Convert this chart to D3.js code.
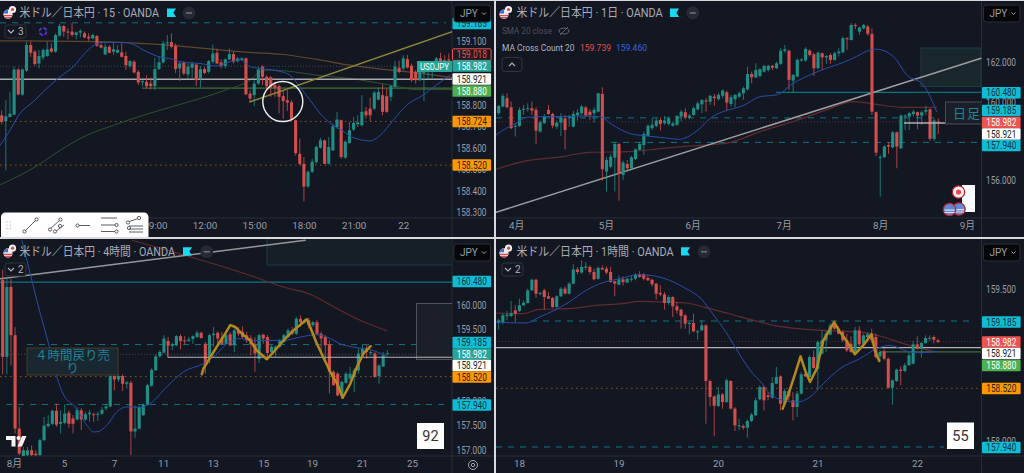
<!DOCTYPE html>
<html><head><meta charset="utf-8">
<script src="https://cdnjs.cloudflare.com/ajax/libs/d3/7.8.5/d3.min.js"></script>
<style>
html,body{margin:0;padding:0;background:#d8dade;overflow:hidden}
svg{display:block}
text{font-family:Roboto,"Noto Sans CJK JP",sans-serif}
</style></head><body><svg id="c" width="1024" height="473"></svg>
<script>
// candle rows: [open, close, high, low]
const m15Candles=[[158.753,158.722,158.776,158.711],[158.726,158.748,158.823,158.495],[158.745,158.761,158.862,158.742],[158.756,158.967,158.98,158.753],[158.967,158.85,158.972,158.847],[158.85,158.967,158.972,158.842],[158.961,159.081,159.097,158.956],[159.081,159.045,159.097,159.026],[159.05,158.992,159.058,158.983],[158.995,159.03,159.058,158.972],[159.023,159.058,159.065,159.011],[159.03,159.061,159.097,159.026],[159.065,159.05,159.089,159.045],[159.05,159.128,159.136,159.045],[159.125,159.17,159.18,159.12],[159.17,159.144,159.175,159.12],[159.144,159.14,159.159,159.108],[159.144,159.128,159.183,159.12],[159.128,159.14,159.144,159.108],[159.139,159.147,159.155,159.117],[159.136,159.117,159.144,159.112],[159.12,159.112,159.136,159.101],[159.112,159.128,159.136,159.108],[159.123,159.078,159.128,159.073],[159.081,159.069,159.092,159.065],[159.037,159.073,159.089,159.034],[159.073,159.045,159.081,159.042],[159.05,159.061,159.092,159.034],[159.045,159.058,159.081,159.042],[159.047,159.026,159.089,159.023],[159.03,158.987,159.05,158.964],[158.983,159.006,159.011,158.972],[159.003,158.953,159.011,158.948],[158.956,158.906,158.964,158.894],[158.909,158.912,158.917,158.889],[158.909,158.889,158.94,158.878],[158.901,158.889,158.93,158.873],[158.889,158.969,159.023,158.87],[158.969,159,159.026,158.964],[159,159.089,159.101,158.995],[159.089,159.094,159.128,159.058],[159.095,159.073,159.136,159.065],[159.076,158.969,159.089,158.951],[158.972,158.995,159.003,158.912],[159,158.948,159.006,158.94],[158.944,158.98,158.995,158.925],[158.975,158.995,159.003,158.925],[158.99,158.917,158.995,158.889],[158.925,158.969,158.983,158.883],[158.969,158.951,158.98,158.945],[158.956,159.006,159.011,158.948],[159.003,159.042,159.084,158.995],[159.045,158.995,159.065,158.992],[159,158.984,159.014,158.972],[158.983,159.014,159.019,158.972],[159.014,159.039,159.065,159.011],[159.039,159.003,159.05,158.995],[159.006,159.019,159.026,158.998],[159.011,159.019,159.026,159.006],[159.019,158.851,159.023,158.847],[158.854,158.831,158.87,158.811],[158.847,158.901,158.917,158.795],[158.901,158.967,158.98,158.894],[158.98,158.933,158.987,158.894],[158.933,158.889,158.94,158.87],[158.93,158.883,158.936,158.839],[158.894,158.881,158.909,158.839],[158.889,158.839,158.898,158.761],[158.842,158.819,158.867,158.737],[158.823,158.812,158.87,158.773],[158.814,158.733,158.823,158.726],[158.73,158.576,158.733,158.565],[158.573,158.526,158.644,158.519],[158.526,158.42,158.558,158.351],[158.42,158.489,158.495,158.414],[158.489,158.536,158.55,158.483],[158.534,158.605,158.612,158.526],[158.601,158.636,158.648,158.597],[158.636,158.526,158.639,158.523],[158.526,158.605,158.651,158.523],[158.589,158.701,158.714,158.586],[158.698,158.733,158.769,158.69],[158.73,158.558,158.733,158.55],[158.555,158.63,158.636,158.55],[158.623,158.683,158.722,158.62],[158.686,158.717,158.745,158.679],[158.711,158.72,158.753,158.698],[158.706,158.769,158.847,158.701],[158.772,158.753,158.792,158.737],[158.784,158.753,158.836,158.726],[158.784,158.859,158.867,158.776],[158.826,158.862,158.883,158.823],[158.847,158.769,158.898,158.753],[158.842,158.769,158.878,158.764],[158.839,158.889,158.894,158.819],[158.886,158.98,159.008,158.883],[158.975,158.956,159.008,158.948],[158.972,159.019,159.034,158.961],[159.015,158.976,159.034,158.972],[158.984,158.917,158.995,158.909],[158.956,158.917,158.964,158.901],[158.917,158.956,158.964,158.912],[158.951,158.983,158.995,158.819],[158.956,158.98,158.987,158.925],[158.972,158.98,158.987,158.925],[158.98,159.019,159.026,158.972],[159.019,158.987,159.045,158.972],[159.011,158.995,159.034,158.987],[159.014,159.008,159.042,159.003]];
const dayCandles=[[159.42,159.79,159.84,159.33],[159.76,160.30,160.40,159.72],[160.18,159.72,160.43,159.67],[159.72,158.66,160.01,158.61],[158.74,158.78,158.91,158.24],[158.78,159.59,159.72,158.71],[159.59,159.64,159.84,159.33],[159.62,159.67,159.92,159.5],[159.67,159.55,160.01,159.33],[159.59,158.54,159.72,157.86],[158.49,158.96,159.05,158.44],[158.91,159.28,159.38,158.88],[159.59,159.38,159.84,159.33],[159.38,158.79,159.45,158.66],[158.74,158.94,159.05,158.61],[158.94,159.21,159.42,158.27],[159.16,158.57,159.33,157.59],[159.21,159.25,159.33,158.74],[158.74,159.38,159.55,158.71],[159.33,159.45,159.62,159.05],[159.42,159.76,159.84,159.33],[159.71,159.30,159.79,159.25],[159.5,159.33,159.62,159.08],[159.42,159.59,159.72,158.94],[159.5,160.43,160.46,159.45],[160.4,156.58,160.73,156.0],[156.46,157.05,157.22,155.45],[156.71,157.22,157.36,156.63],[157.17,157.86,157.98,155.45],[157.86,156.34,157.93,154.99],[156.29,156.92,157.02,156.04],[156.85,156.63,157.05,156.46],[156.63,157.19,157.26,156.58],[157.10,157.59,157.64,157.05],[157.56,157.86,157.98,157.53],[157.81,158.37,158.49,157.31],[158.27,158.78,158.86,158.24],[158.66,158.83,159.16,158.57],[158.78,159.05,159.16,158.71],[159.08,158.88,159.21,158.54],[158.91,159.05,159.28,158.83],[158.88,159.16,159.25,158.78],[158.79,158.91,159.0,158.74],[158.83,159.28,159.33,158.78],[159.25,159.5,159.59,159.0],[159.47,159.2,159.67,159.11],[159.21,159.3,159.38,159.11],[159.33,159.67,159.76,159.28],[159.62,159.92,160.01,159.55],[159.87,160.09,160.13,159.42],[160.06,160.04,160.18,159.5],[160.01,160.30,160.35,159.84],[160.26,160.18,160.4,159.79],[160.13,160.35,160.43,160.06],[160.3,160.57,160.63,160.18],[160.48,159.96,160.57,159.55],[159.89,160.23,160.35,159.76],[160.13,160.35,160.38,159.72],[160.26,160.43,160.52,160.18],[160.43,160.68,160.77,160.09],[160.63,161.41,161.78,160.57],[161.41,161.24,161.53,160.94],[161.24,161.61,161.95,161.19],[161.31,161.65,161.7,161.24],[161.53,161.82,161.87,161.48],[161.61,161.83,161.87,161.53],[161.82,161.73,161.87,161.61],[161.7,161.95,162.03,161.66],[161.92,162.59,162.71,161.87],[162.58,162.66,162.88,162.49],[162.59,161.11,162.63,160.6],[161.07,161.36,161.41,160.46],[161.28,162.12,162.2,161.24],[162.09,162.15,162.2,162.03],[162.09,162.68,162.76,162.03],[162.59,162.37,162.66,162.29],[162.41,161.7,162.49,161.31],[161.7,162.49,162.54,161.65],[162.46,162.25,162.49,161.61],[162.25,162.32,162.37,161.92],[162.37,162.12,162.46,161.92],[162.12,162.46,162.54,162.09],[162.46,162.54,162.71,162.29],[162.51,163.22,163.3,162.46],[163.22,163.17,163.27,162.63],[163.13,163.89,163.98,163.1],[163.89,163.84,163.98,163.67],[163.55,163.76,163.81,163.39],[163.72,163.89,163.94,163.67],[163.81,163.44,163.89,163.33],[163.44,159.5,163.72,159.33],[159.47,157.42,159.5,157.26],[157.14,157.19,157.31,155.19],[157.19,157.73,157.81,157.14],[157.8,157.73,157.93,157.36],[157.69,158.45,158.52,157.64],[158.45,157.73,158.49,156.63],[157.64,159.3,159.37,157.61],[159.25,159.3,159.37,158.57],[159.25,159.42,159.5,158.57],[159.38,159.5,159.59,159.25],[159.47,159.3,159.5,158.61],[159.3,159.47,159.55,158.83],[159.5,159.59,159.79,159.33],[159.62,158.12,159.67,158.03],[158.12,159.05,159.16,158.0],[159.0,158.96,159.16,158.37]];
const h4Candles=[[160.53,158.93,160.74,158.57],[158.93,160.38,160.55,158.57],[160.38,159.38,160.55,158.75],[159.38,157.44,159.55,157.34],[157.44,156.92,157.89,156.89],[156.85,156.99,157.06,156.82],[156.89,156.99,157.06,156.85],[156.99,156.89,157.09,156.85],[156.92,156.89,156.99,156.85],[156.89,157.20,157.23,156.85],[157.20,157.50,157.68,157.18],[157.49,157.54,157.72,157.46],[157.54,157.81,157.83,157.51],[157.81,157.52,157.96,157.48],[157.54,157.58,157.82,157.34],[157.56,157.75,157.94,157.53],[157.77,157.54,157.82,157.46],[157.65,157.54,157.72,157.34],[157.63,157.83,157.88,157.61],[157.82,157.63,157.86,157.41],[157.63,157.74,157.79,157.6],[157.74,157.77,157.83,157.58],[157.74,157.72,157.77,157.58],[157.73,157.75,157.79,157.6],[157.75,157.83,157.89,157.72],[157.86,157.9,157.96,157.82],[157.9,158.53,158.57,157.88],[158.53,158.46,158.55,158.24],[158.46,158.53,158.57,158.41],[158.53,158.37,158.57,158.22],[158.37,158.4,158.43,158.27],[158.39,157.38,158.43,156.89],[157.38,157.44,157.92,157.25],[157.44,157.89,157.92,157.42],[157.72,157.94,157.96,157.7],[157.94,158.34,158.37,157.92],[158.33,158.66,158.69,158.31],[158.65,158.94,158.98,158.64],[158.94,159.03,159.07,158.91],[159.02,159.31,159.38,159.0],[159.26,159.16,159.34,158.93],[159.16,159.19,159.22,159.07],[159.17,159.36,159.38,159.15],[159.36,159.26,159.4,159.08],[159.27,159.26,159.36,159.19],[159.26,159.29,159.34,159.24],[159.3,159.36,159.38,159.2],[159.34,159.43,159.47,159.33],[159.43,159.32,159.45,159.31],[159.2,158.75,159.24,158.58],[158.89,159.38,159.41,158.79],[159.38,159.41,159.55,159.14],[159.43,159.31,159.46,159.2],[159.31,159.2,159.45,159.17],[159.2,159.38,159.41,159.19],[159.4,159.17,159.45,159.15],[159.17,159.48,159.52,159.03],[159.48,159.41,159.55,159.36],[159.45,159.34,159.56,159.31],[159.38,159.27,159.45,159.22],[159.31,159.19,159.38,158.96],[159.19,159.0,159.34,158.62],[158.89,159.38,159.41,158.8],[159.39,159.31,159.41,159.2],[159.34,159.01,159.38,158.86],[159.03,159.14,159.17,158.98],[159.07,159.14,159.17,158.93],[159.14,159.27,159.31,159.12],[159.24,159.38,159.41,159.22],[159.34,159.48,159.52,159.33],[159.48,159.41,159.55,159.38],[159.41,159.72,159.76,159.38],[159.72,159.65,159.79,159.55],[159.65,159.69,159.72,159.62],[159.69,159.59,159.74,159.52],[159.59,159.65,159.67,159.55],[159.65,159.41,159.69,159.38],[159.41,159.31,159.45,159.03],[159.34,159.17,159.38,158.86],[159.19,158.62,159.27,158.17],[158.62,158.34,158.65,158.34],[158.58,158.13,158.62,158.11],[158.13,158.41,158.43,158.06],[158.39,158.58,158.62,158.37],[158.48,158.58,158.72,158.44],[158.51,158.65,158.69,158.2],[158.65,159.0,159.1,158.58],[158.98,159.09,159.19,158.93],[159.1,159.03,159.17,158.89],[159.01,159.03,159.07,158.96],[159.0,158.51,159.03,158.5],[158.53,158.75,158.78,158.37],[158.73,158.96,159.03,158.72],[158.98,159.0,159.07,158.96]];
const h1Candles=[[159.165,159.191,159.208,159.099],[159.175,159.241,159.264,159.152],[159.234,159.247,159.284,159.191],[159.234,159.264,159.383,159.224],[159.29,159.257,159.34,159.175],[159.284,159.34,159.406,159.274],[159.34,159.366,159.389,159.33],[159.363,159.488,159.504,159.356],[159.488,159.593,159.603,159.481],[159.593,159.455,159.603,159.415],[159.455,159.462,159.471,159.439],[159.488,159.422,159.504,159.297],[159.429,159.406,159.471,159.406],[159.412,159.323,159.422,159.317],[159.323,159.429,159.439,159.317],[159.429,159.504,159.521,159.422],[159.504,159.455,159.527,159.448],[159.455,159.554,159.57,159.448],[159.554,159.695,159.745,159.547],[159.695,159.669,159.719,159.646],[159.663,159.719,159.784,159.653],[159.712,159.725,159.768,159.686],[159.719,159.669,159.735,159.646],[159.669,159.597,159.702,159.587],[159.603,159.709,159.725,159.593],[159.709,159.695,159.735,159.686],[159.702,159.663,159.725,159.646],[159.669,159.57,159.719,159.564],[159.577,159.554,159.587,159.429],[159.544,159.597,159.636,159.537],[159.597,159.57,159.626,159.537],[159.564,159.603,159.613,159.56],[159.593,159.603,159.636,159.57],[159.603,159.643,159.659,159.587],[159.643,159.62,159.676,159.613],[159.646,159.603,159.659,159.587],[159.61,159.587,159.636,159.58],[159.593,159.547,159.603,159.527],[159.554,159.455,159.56,159.396],[159.462,159.448,159.537,159.429],[159.448,159.363,159.471,159.297],[159.363,159.422,159.439,159.34],[159.422,159.33,159.429,159.224],[159.33,159.29,159.373,159.257],[159.297,159.234,159.307,159.109],[159.241,159.159,159.251,159.109],[159.159,159.165,159.175,159.053],[159.165,159.083,159.257,159.076],[159.083,159.083,159.099,158.999],[159.093,159.142,159.191,159.086],[159.142,158.592,159.152,158.17],[158.592,158.434,158.605,158.342],[158.44,158.348,158.45,158.045],[158.345,158.46,158.533,158.335],[158.46,158.384,158.473,158.319],[158.384,158.599,158.615,158.378],[158.592,158.319,158.599,158.309],[158.319,158.154,158.335,158.098],[158.147,158.154,158.22,158.105],[158.147,158.131,158.164,158.111],[158.131,158.197,158.21,158.032],[158.197,158.259,158.276,158.187],[158.253,158.401,158.427,158.246],[158.411,158.533,158.549,158.401],[158.533,158.401,158.549,158.302],[158.45,158.434,158.483,158.401],[158.427,158.572,158.632,158.418],[158.566,158.632,158.73,158.559],[158.638,158.368,158.648,158.302],[158.368,158.493,158.516,158.351],[158.493,158.44,158.499,158.401],[158.401,158.335,158.483,158.203],[158.335,158.467,158.493,158.236],[158.467,158.658,158.681,158.46],[158.664,158.638,158.681,158.632],[158.632,158.829,158.846,158.625],[158.829,158.72,158.895,158.714],[158.714,158.977,158.994,158.506],[158.862,158.994,159.093,158.856],[158.994,159.06,159.086,158.879],[159.05,159.142,159.165,159.043],[159.165,159.109,159.191,159.099],[159.109,159.06,159.132,159.053],[159.076,158.994,159.093,158.98],[158.994,158.895,159.06,158.879],[158.961,158.879,159.035,158.87],[158.879,159.093,159.126,158.869],[159.093,158.954,159.132,158.934],[158.961,159.043,159.06,158.94],[159.027,159.053,159.07,158.98],[159.053,158.994,159.109,158.97],[159.027,158.829,159.06,158.813],[158.836,158.879,158.895,158.79],[158.885,158.813,158.912,158.796],[158.813,158.526,158.823,158.516],[158.526,158.599,158.605,158.358],[158.592,158.704,158.714,158.582],[158.704,158.691,158.737,158.549],[158.691,158.747,158.77,158.681],[158.747,158.846,158.879,158.747],[158.763,158.954,158.987,158.757],[158.954,158.912,159.033,158.902],[158.912,158.967,158.977,158.823],[158.967,159.017,159.043,158.961],[159.01,159.02,159.043,158.987],[159.027,159.0,159.043,158.961],[158.994,158.977,159.01,158.967]];

// moving averages and drawn lines: index along the bars, then price
const m15BlueIdx=[-0.4,2,4.4,7.6,10.9,14.1,17.3,19.7,22.1,24.6,29.4,31.8,34.2,37.4,41.5,43.9,47.9,51.9,55.2,57.6,60,62.4,66.4,69.6,72,74.5,77.3,79.7,82.1,84.5,86.6,89,91.4,94.6,97.8,101.8,105,108.3];
const m15BluePx=[158.612,158.683,158.761,158.816,158.878,158.933,158.98,159.034,159.078,159.094,159.094,159.084,159.058,159.03,159.014,159,158.995,158.983,159.003,159.014,158.98,158.972,158.961,158.941,158.886,158.823,158.753,158.711,158.683,158.652,158.639,158.633,158.659,158.73,158.8,158.847,158.894,158.941];
const m15BrownIdx=[-0.4,23.8,39.9,60,68,76.1,84.1,92.2,100.3,108.7,112];
const m15BrownPx=[159.101,159.097,159.081,159.047,159.037,159.014,158.987,158.967,158.951,158.93,158.925];
const m15GreenIdx=[-0.4,4.4,9.3,14.1,20.5,27,34.2,41.5,47.9,54.4,60,62.4,64.8,70.5,76.1,84.1,93.8,100.2,108.7];
const m15GreenPx=[158.428,158.472,158.526,158.589,158.659,158.706,158.753,158.795,158.831,158.873,158.917,158.956,158.964,158.956,158.94,158.925,158.894,158.873,158.873];
const m15TrendIdx=[60,109.5];const m15TrendPx=[158.816,159.148];

const dayBlueIdx=[-0.6,1.8,4.2,6.6,11.4,15.4,20.2,24.2,27.4,31.4,34.6,38.7,43.5,47.5,51.5,54.7,58.7,62.9,66.9,70.9,74.9,78.9,82.9,86.1,88.9,90.9,95,98.2,102.2,105.4];
const dayBluePx=[158.32,158.66,158.91,159.21,159.25,159.25,159.28,159.25,158.83,158.4,158.29,158.2,158.1,158.49,159.25,159.55,159.79,160.26,160.35,160.94,161.36,161.7,161.99,162.29,162.59,162.66,162.29,161.36,160.85,159.5];
const dayRedIdx=[-0.6,5.8,15.4,21.8,31.4,39.5,47.5,55.5,62.9,70.9,78.9,85.3,90.1,97.4,105.4];
const dayRedPx=[156.58,156.97,157.22,157.44,157.47,157.64,157.78,157.93,158.49,159,159.59,160.01,159.89,159.72,159.72];
const dayTrendIdx=[-0.6,116.1];const dayTrendPx=[154.4,162.2];

const h4BlueIdx=[4.6,6.2,8.2,11.4,13,14.7,17.4,20.2,21.8,23,25,27.4,29.8,33,35.4,39.4,43.4,48.2,50.6,53.8,57,59.4,63.4,67.4,71.4,75.4,77.8,81,85,88.2,92.2];
const h4BluePx=[161.35,160.8,160.1,159.07,158.51,158.13,157.89,157.51,157.37,157.38,157.51,157.79,157.89,157.88,157.96,158.31,158.62,158.79,158.93,159.2,159.31,159.27,159.27,159.27,159.34,159.39,159.34,159.2,159.12,159.08,158.94];
const h4RedIdx=[31,59.4,67.4,73.8,79.4,85,92.2];
const h4RedPx=[161.35,160.62,160.38,160.23,159.97,159.72,159.47];
const h4GoldIdx=[47.8,48.2,49.4,50.6,51.8,53.4,54.6,55.8,57.4,59.4,60.9,63.4,65,67.4,69.8,73,73.8,75.4,78.6,80.3,81.6,83.4,85,86.6,88.3];
const h4GoldPx=[158.57,158.69,158.86,159.03,159.2,159.41,159.59,159.55,159.41,159.27,159.07,158.88,159.03,159.27,159.48,159.71,159.55,159.2,158.62,158.37,158.08,158.37,158.72,159,159.15];
const h4TrendIdx=[-0.6,72.6];const h4TrendPx=[160.55,161.35];

const h1BlueIdx=[-0.6,2.6,6.6,9.8,13.8,17,21.1,25.1,29.1,33.9,37.1,41.2,45.2,48.8,51.6,54.8,58,61.3,63,65.4,68.6,71.9,75.1,78.3,82.3,87.1,91.2,94.4,98.4,101.6,105.6];
const h1BluePx=[159.175,159.168,159.165,159.224,159.297,159.373,159.488,159.564,159.603,159.643,159.633,159.587,159.504,159.406,159.257,159.076,158.862,158.664,158.592,158.467,158.401,158.384,158.434,158.566,158.714,158.813,158.912,158.944,158.888,158.872,158.885];
const h1RedIdx=[-0.6,5.8,9.8,17,23.5,29.9,33.9,39.5,45.2,50,55.6,63,67.8,75.1,81.5,87.1,92.8,97.6,105.6];
const h1RedPx=[159.264,159.257,159.3,159.307,159.34,159.356,159.379,159.373,159.363,159.317,159.257,159.175,159.132,159.099,159.086,159.076,159.027,158.961,158.879];
const h1GoldIdx=[68.5,69.9,71.5,72.8,73.9,75.1,76.7,78.3,80.9,82.3,84.1,85.9,87.9,89.9,90.7,91.8];
const h1GoldPx=[158.319,158.467,158.664,158.836,158.697,158.582,158.714,158.994,159.175,159.076,158.977,158.856,158.944,159.053,158.895,158.79];

// axis ticks
const m15Ticks=[159.1,158.8,158.7,158.6,158.5,158.4,158.3];
const dayTicks=[162,160,156];
const h4Ticks=[160,159.5,158,157.5,157];
const h1Ticks=[159.5,158];
const m15TimeIdx=[37,49,61,73,85,97];const m15TimeLbl=["09:00","12:00","15:00","18:00","21:00","22"];
const dayTimeIdx=[4.2,25.8,46.7,68.6,91.8,112.7];const dayTimeLbl=["4月","5月","6月","7月","8月","9月"];
const h4TimeIdx=[2.7,14.7,26.7,38.5,50.4,62.5,74.2,86.2,98.2];const h4TimeLbl=["8月","5","7","11","13","15","19","21","25"];
const h1TimeIdx=[4.9,28.9,52.9,76.9,100.9];const h1TimeLbl=["18","19","20","21","22"];

const BG="#131722",UP="#1f8f85",DN="#d24f4d",TEAL="#0b7482",CY="#0fbcd6",OR="#ff9800",GOLD="#b38a1e",BLUE="#284ea8",MRED="#642a2f";
const svg=d3.select("#c");
const panels=[
 {id:"a",x:0,y:1,w:494,h:236,ax:452,ty:218,title:"米ドル／日本円 · 15 · OANDA",tEnd:159,fl:167,mn:189,hy:13},
 {id:"b",x:496,y:1,w:528,h:236,ax:981.5,ty:218,title:"米ドル／日本円 · 1日 · OANDA",tEnd:661.7,fl:670,mn:692.7,hy:13},
 {id:"c",x:0,y:239,w:494,h:234,ax:452,ty:456,title:"米ドル／日本円 · 4時間 · OANDA",tEnd:175,fl:183,mn:206.7,hy:251.7},
 {id:"d",x:496,y:239,w:528,h:234,ax:981.5,ty:456,title:"米ドル／日本円 · 1時間 · OANDA",tEnd:672.7,fl:681,mn:704,hy:251.7}];
const defs=svg.append("defs");
panels.forEach(p=>{
 defs.append("clipPath").attr("id","clip-"+p.id).append("rect").attr("x",p.x).attr("y",p.y).attr("width",p.ax-p.x).attr("height",p.ty-p.y);
 svg.append("rect").attr("x",p.x).attr("y",p.y).attr("width",p.w).attr("height",p.h).attr("fill",BG);
 svg.append("line").attr("x1",p.ax).attr("x2",p.ax).attr("y1",p.y).attr("y2",p.y+p.h).attr("stroke","#2a2e39");
 svg.append("line").attr("x1",p.x).attr("x2",p.x+p.w).attr("y1",p.ty).attr("y2",p.ty).attr("stroke","#2a2e39");
 p.g=svg.append("g").attr("clip-path",`url(#clip-${p.id})`);
});
const [pa,pb,pc,pd]=panels;
const scales={
 a:{x:d3.scaleLinear([0,108],[1.7,448.8]),y:d3.scaleLinear([159.1,158.3],[41,212.2]),span:108},
 b:{x:d3.scaleLinear([0,105.8],[498.7,938.3]),y:d3.scaleLinear([162,156],[62.3,180.7]),span:105.8},
 c:{x:d3.scaleLinear([0,92.3],[2.7,387.3]),y:d3.scaleLinear([160,157],[305.3,449.8]),span:92.3},
 d:{x:d3.scaleLinear([0,105.95],[498.7,938]),y:d3.scaleLinear([159.185,157.94],[321,447]),span:105.95}};
function level(p,price,color,dash,from,to,width){
 const s=scales[p.id];
 p.g.append("line").attr("x1",from).attr("x2",to).attr("y1",s.y(price)).attr("y2",s.y(price))
  .attr("stroke",color).attr("stroke-width",width||1).attr("stroke-dasharray",dash||null);
}
function path(p,idx,px,color,width,smooth){
 const s=scales[p.id];
 const ln=d3.line().x(d=>s.x(d[0])).y(d=>s.y(d[1])).curve(smooth?d3.curveMonotoneX:d3.curveLinear);
 p.g.append("path").attr("d",ln(d3.zip(idx,px))).attr("fill","none").attr("stroke",color).attr("stroke-width",width).attr("stroke-linejoin","round").attr("stroke-linecap","round");
}
function candles(p,rows,bw){
 const s=scales[p.id],k=s.span/(rows.length-1);
 const g=p.g.append("g");
 g.selectAll("line").data(rows).join("line")
  .attr("x1",(d,i)=>s.x(i*k)).attr("x2",(d,i)=>s.x(i*k)).attr("y1",d=>s.y(d[2])).attr("y2",d=>s.y(d[3]))
  .attr("stroke",d=>d[1]>=d[0]?UP:DN).attr("stroke-width",1).attr("stroke-opacity",.8);
 g.selectAll("rect").data(rows).join("rect")
  .attr("x",(d,i)=>s.x(i*k)-bw/2).attr("width",bw)
  .attr("y",d=>Math.min(s.y(d[0]),s.y(d[1]))).attr("height",d=>Math.max(1,Math.abs(s.y(d[0])-s.y(d[1]))))
  .attr("fill",d=>d[1]>=d[0]?UP:DN);
}
function box(g,x,y,w,h,fill,stroke){g.append("rect").attr("x",x).attr("y",y).attr("width",w).attr("height",h).attr("fill",fill).attr("stroke",stroke||"none");}

// ---- panel A
level(pa,159.185,TEAL,"6,6",0,446);
level(pa,158.982,"#3c4c55","1,2",0,452);
level(pa,158.724,"#8f5818","1.5,3.5",0,452);
level(pa,158.52,"#8f5818","1.5,3.5",0,452);
level(pa,158.88,"#3a7236",null,142,452,1.2);
path(pa,m15BrownIdx,m15BrownPx,"#64452a",1.2,true);
path(pa,m15GreenIdx,m15GreenPx,"#2d5233",1,true);
level(pa,158.921,"#a9a9ad",null,0,452,1.6);
candles(pa,m15Candles,3.1);
path(pa,m15BlueIdx,m15BluePx,BLUE,1,true);
path(pa,m15TrendIdx,m15TrendPx,"#8f883a",1.4);
pa.g.append("circle").attr("cx",scales.a.x(67.9)).attr("cy",scales.a.y(158.817)).attr("r",20).attr("fill","none").attr("stroke","#f2f2f2").attr("stroke-width",1.4);

// ---- panel B
box(pb.g,921,48,60,38.5,"#19262c","#173f47");
level(pb,159.185,TEAL,"6,6",496,940);
level(pb,157.94,TEAL,"6,6",611,981);
level(pb,158.982,"#5a2c33","1,2",496,981);
level(pb,160.48,TEAL,null,776,981,1.2);
path(pb,dayRedIdx,dayRedPx,MRED,1.2,true);
path(pb,dayTrendIdx,dayTrendPx,"#9b9ba0",1.6);
candles(pb,dayCandles,3.1);
path(pb,dayBlueIdx,dayBluePx,BLUE,1,true);
level(pb,158.921,"#aeaeb2",null,904,981,1.4);
box(pb.g,945.5,102,40,22,"#1a2029","#4a4f59");
pb.g.append("text").attr("x",953).attr("y",118).attr("fill","#1e8494").attr("font-size",13).attr("letter-spacing",1).attr("font-family","Noto Sans CJK JP").text("日足戻り売り");

// ---- panel C
box(pc.g,267,238,190,27,"#161f26","#173f47");
level(pc,160.48,TEAL,null,0,452,1.2);
level(pc,159.185,TEAL,"6,6",27,445);
level(pc,157.94,TEAL,"6,6",6,445);
level(pc,158.52,"#8f5818","1.5,3.5",0,452);
level(pc,158.982,"#3c4c55","1,2",0,452);
box(pc.g,416.5,303.5,40,56,"#1b1f27","#4e525b");
path(pc,h4RedIdx,h4RedPx,MRED,1.1,true);
path(pc,h4TrendIdx,h4TrendPx,"#96969b",1.5);
candles(pc,h4Candles,3.1);
path(pc,h4BlueIdx,h4BluePx,BLUE,1,true);
level(pc,158.921,"#b4b4b8",null,167.5,452,1.2);
pc.g.append("line").attr("x1",167.5).attr("x2",167.5).attr("y1",345).attr("y2",357).attr("stroke","#a05a5a");
path(pc,h4GoldIdx,h4GoldPx,GOLD,2.5);
box(pc.g,27,348,91,27,"#192730","#4c3d24");
pc.g.append("text").attr("x",72.5).attr("y",360).attr("text-anchor","middle").attr("fill","#1e8494").attr("font-size",12.5).attr("font-family","Noto Sans CJK JP").text("４時間戻り売");
pc.g.append("text").attr("x",72.5).attr("y",373).attr("text-anchor","middle").attr("fill","#1e8494").attr("font-size",12.5).attr("font-family","Noto Sans CJK JP").text("り");
// TradingView mark
const tv=pc.g.append("g").attr("fill","#f4f4f4");
tv.append("path").attr("d","M6 436h9.5v10.5h-4v-6.5H6z");
tv.append("circle").attr("cx",18.5).attr("cy",438).attr("r",2);
tv.append("path").attr("d","M22 436h4.5l-4.5 10.5h-4.5z");

// ---- panel D
level(pd,159.185,TEAL,"6,6",531,975);
level(pd,157.94,TEAL,"6,6",496,944);
level(pd,158.52,"#8f5818","1.5,3.5",496,981);
level(pd,158.982,"#5a2c33","1,2",496,981);
level(pd,158.88,"#3a7236",null,880,981,1.2);
path(pd,h1RedIdx,h1RedPx,MRED,1.2,true);
level(pd,158.921,"#b4b4b8",null,496,981,1.3);
candles(pd,h1Candles,3.1);
path(pd,h1BlueIdx,h1BluePx,BLUE,1,true);
path(pd,h1GoldIdx,h1GoldPx,GOLD,2.5);

// ---- axes, tags, headers
const priceFmt=d3.format(".3f");
function axes(p,ticks,tIdx,tLbl){
 const s=scales[p.id];
 const ag=svg.append("g").attr("transform",`translate(${p.ax+4.5},0)`).call(d3.axisRight(s.y).tickValues(ticks).tickFormat(priceFmt).tickSize(0).tickPadding(0));
 ag.select(".domain").remove();
 ag.selectAll("text").attr("fill","#9a9da6").attr("font-size",10.2).attr("font-family","Roboto").attr("textLength",30).attr("lengthAdjust","spacingAndGlyphs");
 const tg=svg.append("g").attr("transform",`translate(0,${p.ty+4})`).call(d3.axisBottom(s.x).tickValues(tIdx).tickFormat((d,i)=>tLbl[i]).tickSize(0).tickPadding(0));
 tg.select(".domain").remove();
 tg.selectAll("text").attr("fill","#9a9da6").attr("font-size",9.8).attr("font-family","Roboto,Noto Sans CJK JP");
}
axes(pa,m15Ticks,m15TimeIdx,m15TimeLbl);
axes(pb,dayTicks,dayTimeIdx,dayTimeLbl);
axes(pc,h4Ticks,h4TimeIdx,h4TimeLbl);
axes(pd,h1Ticks,h1TimeIdx,h1TimeLbl);

function tag(p,text,yc,fill,color,stroke){
 svg.append("rect").attr("x",p.ax+.5).attr("y",yc-5.8).attr("width",38.6).attr("height",11.6).attr("rx",1).attr("fill",fill).attr("stroke",stroke||"none");
 svg.append("text").attr("x",p.ax+19.8).attr("y",yc+3.5).attr("text-anchor","middle").attr("fill",color).attr("font-size",10.2).attr("textLength",30).attr("lengthAdjust","spacingAndGlyphs").text(text);
}
tag(pa,"159.185",23.5,CY,"#10333a");
tag(pa,"159.018",54.6,"#1e1a22","#ef5350","#ef5350");
tag(pa,"158.982",66,"#26a69a","#fff");
tag(pa,"158.921",79,"#fff","#222");
tag(pa,"158.880",91,"#4caf50","#fff");
tag(pa,"158.724",121.5,OR,"#222");
tag(pa,"158.520",165,OR,"#222");
svg.append("rect").attr("x",417).attr("y",61).attr("width",35).attr("height",11).attr("fill","#26a69a");
svg.append("text").attr("x",434.5).attr("y",69.8).attr("text-anchor","middle").attr("fill","#fff").attr("font-size",9.5).attr("textLength",29).attr("lengthAdjust","spacingAndGlyphs").text("USDJPY");

tag(pb,"160.480",92.7,CY,"#10333a");
tag(pb,"159.185",110.5,CY,"#10333a");
tag(pb,"158.982",122.5,"#ef5350","#fff");
tag(pb,"158.921",134,"#fff","#222");
tag(pb,"157.940",145.5,CY,"#10333a");

tag(pc,"160.480",281.5,CY,"#10333a");
tag(pc,"159.185",342.5,CY,"#10333a");
tag(pc,"158.982",354,"#26a69a","#fff");
tag(pc,"158.921",365.5,"#fff","#222");
tag(pc,"158.520",377,OR,"#222");
tag(pc,"157.940",405,CY,"#10333a");

tag(pd,"159.185",322,CY,"#10333a");
tag(pd,"158.982",342,"#ef5350","#fff");
tag(pd,"158.921",353.5,"#fff","#222");
tag(pd,"158.880",365.5,"#4caf50","#fff");
tag(pd,"158.520",388.5,OR,"#222");
tag(pd,"157.940",447.5,CY,"#10333a");

function header(p){
 const cx=p.x+8,y=p.hy;
 svg.append("circle").attr("cx",cx+4.5).attr("cy",y-3.5).attr("r",3.6).attr("fill","#f4f4f4");
 svg.append("circle").attr("cx",cx+4.5).attr("cy",y-3.5).attr("r",1.6).attr("fill","#e04848");
 svg.append("circle").attr("cx",cx).attr("cy",y+1.2).attr("r",4.6).attr("fill","#e9e9ef");
 svg.append("path").attr("d",`M${cx-4.4} ${y+.5}a4.6 4.6 0 0 1 4.4 -3.8v3.8z`).attr("fill","#3f6fc6");
 svg.append("path").attr("d",`M${cx-4.2} ${y+2.6}h8.4M${cx-2.8} ${y+4.6}h5.6`).attr("stroke","#e04848").attr("stroke-width",1.2);
 svg.append("text").attr("x",p.x+19.5+(p.x?1:0)).attr("y",y+4.3).attr("fill","#a9acb5").attr("font-size",12)
  .attr("font-family","Noto Sans CJK JP,Roboto").attr("textLength",p.tEnd-p.x-19.5).attr("lengthAdjust","spacingAndGlyphs").text(p.title);
 svg.append("path").attr("d",`M${p.fl} ${y-4.5}h9l-2.6 4.2l2.6 4.2h-9z`).attr("fill","#18d9f0");
 svg.append("circle").attr("cx",p.mn).attr("cy",y).attr("r",6.4).attr("fill","#262a33");
 svg.append("rect").attr("x",p.mn-3).attr("y",y-.8).attr("width",6).attr("height",1.6).attr("fill","#6c6f78");
 // currency button
 const byPanel=p.y+ (p.y>100?5:4);
 svg.append("rect").attr("x",p.ax+2).attr("y",byPanel).attr("width",36.5).attr("height",17).attr("rx",2.5).attr("fill","#06070b").attr("stroke","#2a2e39");
 svg.append("text").attr("x",p.ax+8).attr("y",byPanel+12).attr("fill","#9a9da6").attr("font-size",10).text("JPY");
 svg.append("path").attr("d",`M${p.ax+30} ${byPanel+7.5}l2 2l2 -2`).attr("fill","none").attr("stroke","#a3a6af");
}
panels.forEach(header);

function lgBtn(x,y,w,h,label,up){
 svg.append("rect").attr("x",x).attr("y",y).attr("width",w).attr("height",h).attr("rx",2.5).attr("fill","#131722").attr("stroke","#31353f");
 const c=label?x+6:x+w/2,my=y+h/2;
 svg.append("path").attr("d",up?`M${c-3} ${my+1.5}l3 -3l3 3`:`M${c-3} ${my-1.5}l3 3l3 -3`).attr("fill","none").attr("stroke","#b2b5be").attr("stroke-width",1.1);
 if(label) svg.append("text").attr("x",x+13).attr("y",my+3.5).attr("fill","#b2b5be").attr("font-size",10).text(label);
}
lgBtn(5,25,21,13,"3");
svg.append("circle").attr("cx",43).attr("cy",31.5).attr("r",3.6).attr("fill","none").attr("stroke","#5a35d8").attr("stroke-width",1.6).attr("stroke-dasharray","4,1.6");
lgBtn(5,263,21,13,"2");
lgBtn(502,57.5,20,14,null,true);
lgBtn(502,263,21,13,"2");

svg.append("text").attr("x",502).attr("y",34).attr("fill","#4d505a").attr("font-size",9.4).attr("textLength",50).attr("lengthAdjust","spacingAndGlyphs").text("SMA 20 close");
const ey=svg.append("g").attr("fill","none").attr("stroke","#6b6e77").attr("stroke-width",.9);
ey.append("ellipse").attr("cx",564).attr("cy",31).attr("rx",5).attr("ry",3);
ey.append("line").attr("x1",560).attr("y1",35).attr("x2",568).attr("y2",27);
svg.append("text").attr("x",502).attr("y",50.5).attr("fill","#b2b5be").attr("font-size",9.6).attr("textLength",72.5).attr("lengthAdjust","spacingAndGlyphs").text("MA Cross Count 20");
svg.append("text").attr("x",580).attr("y",50.5).attr("fill","#e05252").attr("font-size",9.6).attr("textLength",31).attr("lengthAdjust","spacingAndGlyphs").text("159.739");
svg.append("text").attr("x",616).attr("y",50.5).attr("fill","#3a63d8").attr("font-size",9.6).attr("textLength",31).attr("lengthAdjust","spacingAndGlyphs").text("159.460");

// settings cog on panel C
svg.append("circle").attr("cx",473).attr("cy",465).attr("r",4.5).attr("fill","none").attr("stroke","#a3a6af");
svg.append("circle").attr("cx",473).attr("cy",465).attr("r",1.7).attr("fill","none").attr("stroke","#a3a6af");

// white note boxes
[[417,423,27,26,"92"],[947,422.5,27,26.5,"55"]].forEach(d=>{
 svg.append("rect").attr("x",d[0]).attr("y",d[1]).attr("width",d[2]).attr("height",d[3]).attr("fill","#fff");
 svg.append("text").attr("x",d[0]+d[2]/2).attr("y",d[1]+18).attr("text-anchor","middle").attr("fill","#333").attr("font-size",14.5).text(d[4]);
});

// event markers on panel B
svg.append("rect").attr("x",962).attr("y",185).attr("width",13).attr("height",27).attr("fill","#fff");
function evt(cx,cy,jp){
 svg.append("circle").attr("cx",cx).attr("cy",cy).attr("r",6.2).attr("fill",jp?"#f2f2f2":"#5b8ad8").attr("stroke","#c2202c").attr("stroke-width",1.3);
 if(jp) svg.append("circle").attr("cx",cx).attr("cy",cy).attr("r",2.6).attr("fill","#f2455a");
 else svg.append("path").attr("d",`M${cx-5} ${cy+.6}h10M${cx-5} ${cy+3}h10`).attr("stroke","#f0d5d5").attr("stroke-width",1.2);
}
evt(958.5,192,true);evt(959,209,false);evt(949.5,209.5,false);

// drawing toolbar
const tb=svg.append("g");
tb.append("path").attr("d","M1 237V217a4.5 4.5 0 0 1 4.5 -4.5H144a4.5 4.5 0 0 1 4.5 4.5V237z").attr("fill","#fff");
const ink="#4a4d55",ig=tb.append("g").attr("fill","none").attr("stroke",ink).attr("stroke-width",.9);
d3.range(3).forEach(i=>{[7,10.5].forEach(x=>tb.append("circle").attr("cx",x).attr("cy",222+i*3.2).attr("r",.8).attr("fill","#c9ccd2"));});
const node=(x,y)=>ig.append("circle").attr("cx",x).attr("cy",y).attr("r",1.6).attr("fill","#fff");
const seg=(a,b,c,d)=>ig.append("line").attr("x1",a).attr("y1",b).attr("x2",c).attr("y2",d);
seg(25,231,36,220);node(24.5,231.5);node(36.5,219.5);
seg(50,229,60,220);seg(55,232,64,225);node(50,229.5);node(60.5,219.5);node(55,231.5);node(60,226);
seg(78,225.5,90,225.5);node(77.5,225.5);
seg(101,218,117,218);seg(101,225,115,225);seg(101,231.5,115,231.5);node(116.5,225);node(116.5,231.5);
seg(128,222,138,218.5);node(128,222.5);node(139,218);node(129,228);seg(129,226,143,226);seg(129,229,143,229);seg(129,232,143,232);
</script></body></html>
